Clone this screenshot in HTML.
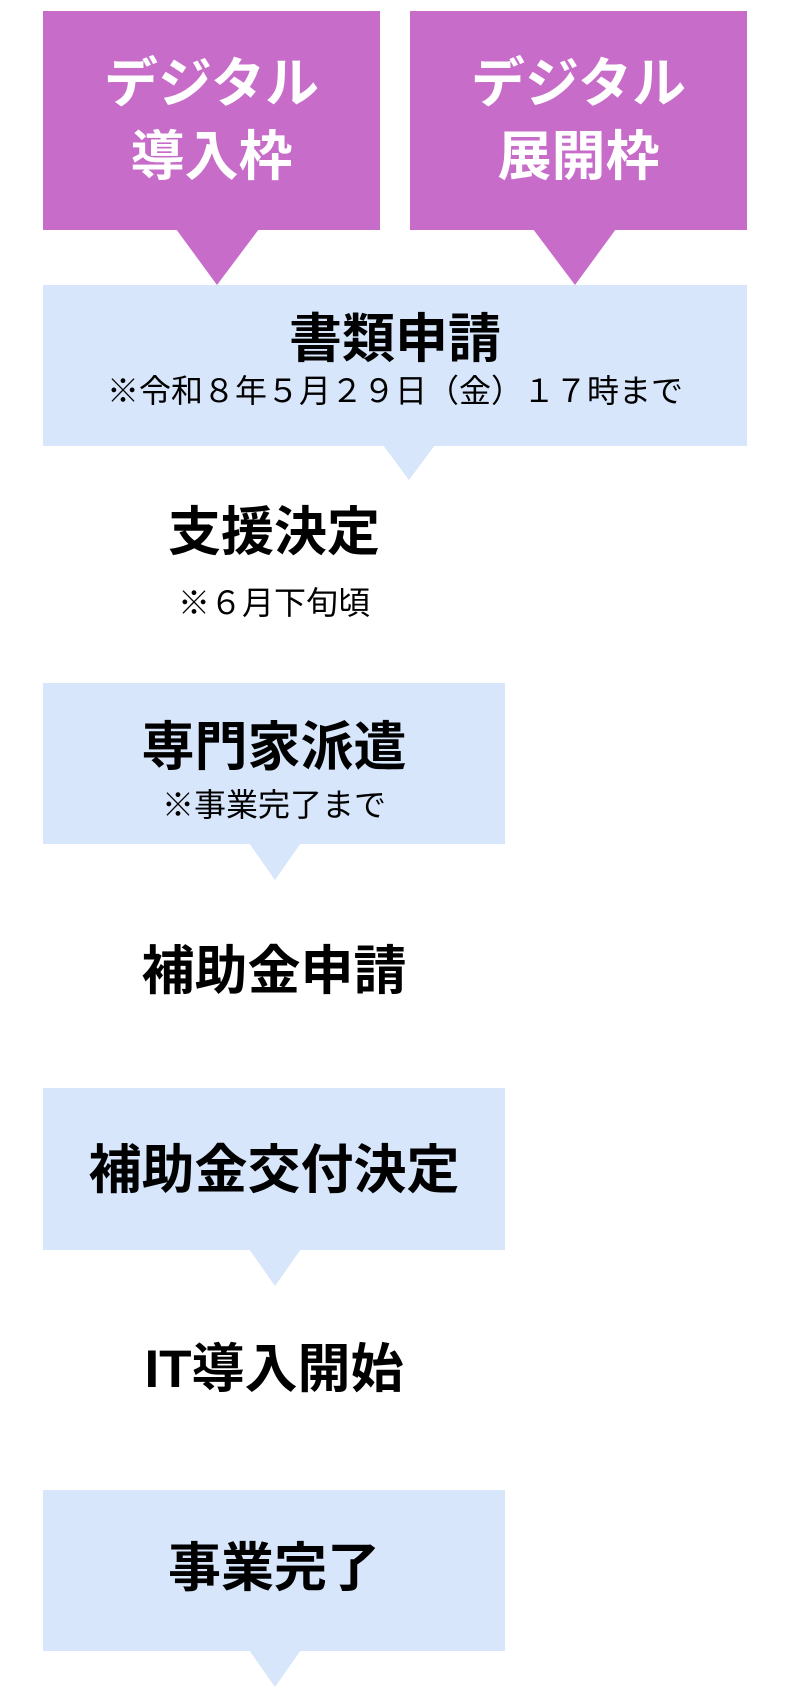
<!DOCTYPE html>
<html><head><meta charset="utf-8"><style>
html,body{margin:0;padding:0;background:#fff;}
body{width:791px;height:1697px;position:relative;overflow:hidden;font-family:"Liberation Sans","Noto Sans CJK JP",sans-serif;}
.b{position:absolute;}
.p{background:#c76dc9;}
.l{background:#d7e6fb;}
.t{position:absolute;left:0;right:0;text-align:center;white-space:nowrap;line-height:1;}
.w{color:#fff;font-weight:bold;font-size:54px;}
.k{color:#000;font-weight:bold;font-size:53px;}
.s{color:#000;font-size:32px;}
</style></head><body>
<svg class="b" style="left:0;top:0" width="791" height="1697">
<polygon points="176,229 259,229 217,285" fill="#c76dc9"/>
<polygon points="533,229 616,229 575,285" fill="#c76dc9"/>
<polygon points="383,445 435,445 409,480" fill="#d7e6fb"/>
<polygon points="249,843 301,843 275,880" fill="#d7e6fb"/>
<polygon points="249,1249 301,1249 275,1286" fill="#d7e6fb"/>
<polygon points="249,1650 301,1650 275,1687" fill="#d7e6fb"/>
</svg>
<div class="b p" style="left:43px;top:11px;width:337px;height:219px"></div>
<div class="b p" style="left:410px;top:11px;width:337px;height:219px"></div>
<div class="t w" style="left:43px;width:337px;right:auto;top:57px">デジタル</div>
<div class="t w" style="left:43px;width:337px;right:auto;top:130px">導入枠</div>
<div class="t w" style="left:410px;width:337px;right:auto;top:57px">デジタル</div>
<div class="t w" style="left:410px;width:337px;right:auto;top:130px">展開枠</div>

<div class="b l" style="left:43px;top:285px;width:704px;height:161px"></div>
<div class="t k" style="left:43px;width:704px;right:auto;top:313px">書類申請</div>
<div class="t s" style="left:43px;width:704px;right:auto;top:375px">※令和８年５月２９日（金）１７時まで</div>

<div class="t k" style="left:43px;width:462px;right:auto;top:506px">支援決定</div>
<div class="t s" style="left:43px;width:462px;right:auto;top:587px">※６月下旬頃</div>

<div class="b l" style="left:43px;top:683px;width:462px;height:161px"></div>
<div class="t k" style="left:43px;width:462px;right:auto;top:721px">専門家派遣</div>
<div class="t s" style="left:43px;width:462px;right:auto;top:789px">※事業完了まで</div>

<div class="t k" style="left:43px;width:462px;right:auto;top:945px">補助金申請</div>

<div class="b l" style="left:43px;top:1088px;width:462px;height:162px"></div>
<div class="t k" style="left:43px;width:462px;right:auto;top:1144px">補助金交付決定</div>

<div class="t k" style="left:43px;width:462px;right:auto;top:1343px">IT導入開始</div>

<div class="b l" style="left:43px;top:1490px;width:462px;height:161px"></div>
<div class="t k" style="left:43px;width:462px;right:auto;top:1542px">事業完了</div>
</body></html>
